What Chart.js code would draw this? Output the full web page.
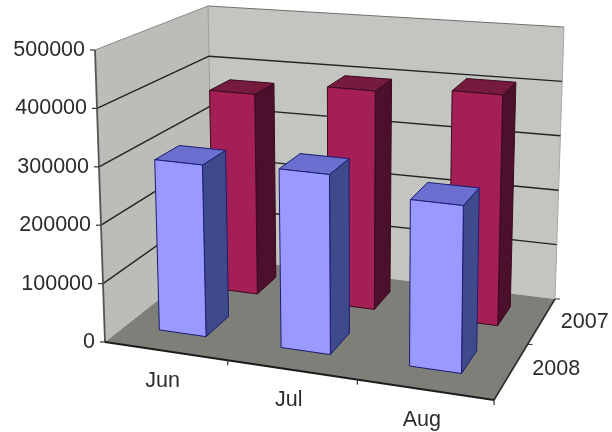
<!DOCTYPE html>
<html>
<head>
<meta charset="utf-8">
<title>Jun-Aug 2007 vs 2008</title>
<script src="https://cdn.jsdelivr.net/npm/chart.js@4"></script>
<style>
  html, body { margin: 0; padding: 0; background: #fff; }
  canvas { display: block; filter: blur(0.7px); }
</style>
</head>
<body>
<canvas id="chart" width="612" height="432"></canvas>
<script>
  "use strict";

  const months = ["Jun", "Jul", "Aug"];
  const seriesNames = ["2008", "2007"];
  const values2008 = [298000, 306000, 279000];
  const values2007 = [372000, 397000, 409000];
  const yMax = 500000;
  const yStep = 100000;

  // screen corners of the 3d box: c[u][v][w], u = along months, v = depth, w = value
  const box = [
    [[[105, 342], [95, 50]], [[213, 257], [208, 6]]],
    [[[494, 400], [498, 89]], [[555, 299], [564, 27]]]
  ];

  const warpU = (u) => u - 0.08 * u * (1 - u);
  const warpV = (v) => v + 0.2 * v * (1 - v);

  function project(u, v, w) {
    const a = warpU(u), b = warpV(v);
    const pt = [0, 1].map(k =>
      (1 - a) * (1 - b) * (1 - w) * box[0][0][0][k] + (1 - a) * (1 - b) * w * box[0][0][1][k] +
      (1 - a) * b * (1 - w) * box[0][1][0][k] + (1 - a) * b * w * box[0][1][1][k] +
      a * (1 - b) * (1 - w) * box[1][0][0][k] + a * (1 - b) * w * box[1][0][1][k] +
      a * b * (1 - w) * box[1][1][0][k] + a * b * w * box[1][1][1][k]);
    return pt;
  }

  function poly(ctx, pts, fill, stroke, lw) {
    ctx.beginPath();
    pts.forEach((p, i) => i ? ctx.lineTo(p[0], p[1]) : ctx.moveTo(p[0], p[1]));
    ctx.closePath();
    if (fill) { ctx.fillStyle = fill; ctx.fill(); }
    if (stroke) { ctx.strokeStyle = stroke; ctx.lineWidth = lw || 1; ctx.stroke(); }
  }

  function line(ctx, a, b, color, lw) {
    ctx.beginPath();
    ctx.moveTo(a[0], a[1]);
    ctx.lineTo(b[0], b[1]);
    ctx.strokeStyle = color;
    ctx.lineWidth = lw || 1;
    ctx.stroke();
  }

  const barDepth = 0.105;
  const seriesDepth = [0.275, 0.745];
  const seriesShift = [-0.008, 0.002]; // nudges each row along the month axis
  const seriesColors = [
    { front: "#9999ff", side: "#3f4a8c", top: "#6a6fd0", edge: "#1c1c70" },
    { front: "#a31f55", side: "#4c0f2c", top: "#761a3e", edge: "#3c0a20" }
  ];

  /* ---------- Walls, floor, axes ---------- */
  const boxPlugin = {
    id: "box3d",
    beforeDatasetsDraw(chart) {
      const ctx = chart.ctx;
      const ys = chart.scales.y;
      const area = chart.chartArea;
      const wOf = (val) => (area.bottom - ys.getPixelForValue(val)) / area.height;

      ctx.save();
      poly(ctx, [project(0, 0, 0), project(0, 0, 1), project(0, 1, 1), project(0, 1, 0)], "#bcbdb8");
      poly(ctx, [project(0, 1, 0), project(0, 1, 1), project(1, 1, 1), project(1, 1, 0)], "#c3c5c0");
      poly(ctx, [project(0, 0, 0), project(1, 0, 0), project(1, 1, 0), project(0, 1, 0)], "#7e7f78");

      line(ctx, project(0, 0, 1), project(0, 1, 1), "#8a8a88", 1);
      line(ctx, project(0, 1, 1), project(1, 1, 1), "#6f706e", 1);
      line(ctx, project(1, 1, 1), project(1, 1, 0), "#a8a8a6", 1);
      line(ctx, project(0, 1, 1), project(0, 1, 0), "#9a9b98", 1);

      ys.ticks.forEach(t => {
        const w = wOf(t.value);
        if (w > 0 && w < 1) {
          line(ctx, project(0, 0, w), project(0, 1, w), "#222", 1.4);
          line(ctx, project(0, 1, w), project(1, 1, w), "#222", 1.4);
        }
      });

      // axes
      line(ctx, project(0, 0, 0), project(0, 0, 1), "#555", 1.8);
      line(ctx, project(0, 0, 0), project(1, 0, 0), "#1c1c1c", 1.8);
      line(ctx, project(1, 0, 0), project(1, 1, 0), "#2c2c2c", 1.6);

      ys.ticks.forEach(t => {
        const p = project(0, 0, wOf(t.value));
        line(ctx, [p[0] - 5, p[1]], p, "#333", 1.2);
      });
      [1 / 3, 2 / 3, 1].forEach(u => {
        const p = project(u, 0, 0);
        line(ctx, p, [p[0], p[1] + 5], "#333", 1.2);
      });
      [0.5, 1].forEach(v => {
        const p = project(1, v, 0);
        line(ctx, p, [p[0] + 5, p[1]], "#333", 1);
      });
      ctx.restore();
    },

    /* ---------- Bars: read geometry from the bar elements ---------- */
    beforeDatasetDraw(chart, args) {
      const ctx = chart.ctx;
      const area = chart.chartArea;
      const meta = args.meta;
      const c = seriesColors[args.index];
      const d = seriesDepth[args.index];
      const v0 = d - barDepth, v1 = d + barDepth;
      ctx.save();
      ctx.lineJoin = "round";
      meta.data.forEach(el => {
        const u0 = (el.x - el.width / 2 - area.left) / area.width + seriesShift[args.index];
        const u1 = (el.x + el.width / 2 - area.left) / area.width + seriesShift[args.index];
        const w = (area.bottom - el.y) / area.height;
        poly(ctx, [project(u1, v0, 0), project(u1, v0, w), project(u1, v1, w), project(u1, v1, 0)], c.side, c.edge, 1);
        poly(ctx, [project(u0, v0, w), project(u0, v1, w), project(u1, v1, w), project(u1, v0, w)], c.top, c.edge, 1);
        poly(ctx, [project(u0, v0, 0), project(u0, v0, w), project(u1, v0, w), project(u1, v0, 0)], c.front, c.edge, 1);
      });
      ctx.restore();
      return false;
    },

    /* ---------- Labels ---------- */
    afterDatasetsDraw(chart) {
      const ctx = chart.ctx;
      const ys = chart.scales.y;
      const xs = chart.scales.x;
      const area = chart.chartArea;
      ctx.save();
      ctx.font = "21.5px 'Liberation Sans'";
      ctx.fillStyle = "#2b2b2b";
      ctx.textBaseline = "middle";

      ctx.textAlign = "right";
      ys.ticks.forEach(t => {
        const p = project(0, 0, (area.bottom - ys.getPixelForValue(t.value)) / area.height);
        ctx.fillText(t.label, p[0] - 10, p[1]);
      });

      ctx.textAlign = "center";
      xs.ticks.forEach((t, i) => {
        const u = (xs.getPixelForTick(i) - area.left) / area.width;
        const p = project(u, 0, 0);
        ctx.fillText(t.label, p[0] - 3, p[1] + 30);
      });

      seriesNames.forEach((name, i) => {
        const p = project(1, seriesDepth[i], 0);
        ctx.fillText(name, p[0] + 43, p[1] + 1);
      });
      ctx.restore();
    }
  };

  new Chart(document.getElementById("chart"), {
    type: "bar",
    data: {
      labels: months,
      datasets: [
        { label: seriesNames[0], data: values2008, grouped: false },
        { label: seriesNames[1], data: values2007, grouped: false }
      ]
    },
    options: {
      responsive: false,
      animation: false,
      layout: { padding: 0 },
      barPercentage: 1,
      categoryPercentage: 0.39,
      plugins: { legend: { display: false }, tooltip: { enabled: false } },
      scales: {
        x: { display: false },
        y: { display: false, min: 0, max: yMax, ticks: { stepSize: yStep, callback: (v) => String(v) } }
      }
    },
    plugins: [boxPlugin]
  });
</script>
</body>
</html>
